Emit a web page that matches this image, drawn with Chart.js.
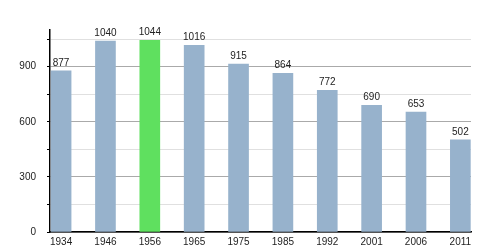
<!DOCTYPE html>
<html><head><meta charset="utf-8">
<script src="https://cdn.jsdelivr.net/npm/chart.js@4/dist/chart.umd.min.js"></script>
<style>html,body{margin:0;padding:0;background:#fff}#w{width:500px;height:250px}</style>
</head><body><div id="w"><canvas id="c"></canvas></div>
<script>
const years = ["1934","1946","1956","1965","1975","1985","1992","2001","2006","2011"];
const population = [877,1040,1044,1016,915,864,772,690,653,502];
const highlightYear = "1956";
const yLabels = [0,300,600,900];

const FONT = "'Liberation Sans', Arial, sans-serif";
const barColors = years.map(y => y === highlightYear ? '#5fe05f' : '#97b2cc');

const valueLabels = {
  id: 'valueLabels',
  afterDatasetsDraw(chart) {
    const ctx = chart.ctx;
    const meta = chart.getDatasetMeta(0);
    ctx.save();
    ctx.font = '10px ' + FONT;
    ctx.fillStyle = '#222';
    ctx.textAlign = 'center';
    ctx.textBaseline = 'bottom';
    meta.data.forEach((bar, i) => {
      ctx.fillText(String(population[i]), bar.x, bar.y - 3);
    });
    ctx.restore();
  }
};

new Chart(document.getElementById('c'), {
  type: 'bar',
  data: {
    datasets: [{
      data: population.map((v, i) => ({x: i, y: v})),
      backgroundColor: barColors,
      borderWidth: 0,
      barThickness: 20
    }]
  },
  options: {
    responsive: true,
    maintainAspectRatio: false,
    animation: false,
    layout: {padding: {top: 30, right: 29, left: 0, bottom: 0}},
    plugins: {legend: {display: false}, tooltip: {enabled: false}},
    scales: {
      x: {
        type: 'linear',
        offset: false,
        min: -0.25,
        max: 9.24,
        afterBuildTicks(s) { s.ticks = years.map((_, i) => ({value: i})); },
        afterFit(s) { s.height = 18; },
        ticks: {
          autoSkip: false,
          maxRotation: 0,
          padding: 4,
          font: {family: FONT, size: 10},
          color: '#222',
          callback: (v) => years[v] !== undefined ? years[v] : ''
        },
        grid: {display: false, drawTicks: false, offset: false},
        border: {display: true, color: '#000', width: 1.5}
      },
      y: {
        min: 0,
        max: 1100,
        afterBuildTicks(s) {
          const t = [];
          for (let v = 0; v <= 1050; v += 75) t.push({value: v});
          s.ticks = t;
        },
        afterFit(s) { s.width = 50; },
        ticks: {
          padding: 11,
          font: {family: FONT, size: 10},
          color: '#222',
          callback: (v) => yLabels.includes(v) ? String(v) : ''
        },
        grid: {
          color: (c) => (c.tick && c.tick.value % 300 === 0) ? '#aaaaaa' : '#e0e0e0',
          tickColor: '#000',
          tickLength: 3,
          drawOnChartArea: true
        },
        border: {display: true, color: '#000', width: 1.5}
      }
    }
  },
  plugins: [valueLabels]
});
</script>
</body></html>
